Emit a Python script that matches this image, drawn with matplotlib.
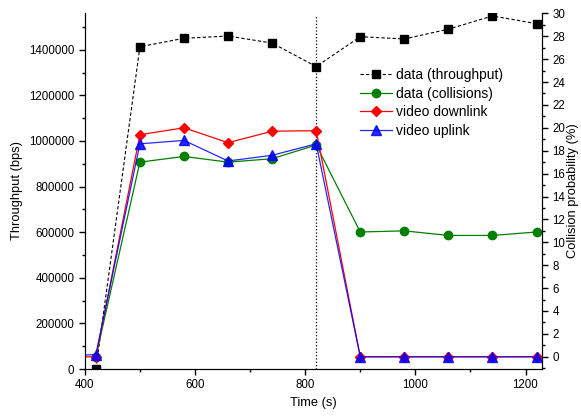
import numpy as np
import matplotlib
matplotlib.use('Agg')
import matplotlib.pyplot as plt
from matplotlib.ticker import MultipleLocator

plt.rcParams['font.family'] = ['Liberation Sans', 'DejaVu Sans']

# time points (s)
time = [420, 500, 580, 660, 740, 820, 900, 980, 1060, 1140, 1220]
# the video lines start left of the visible range
time_video = [340] + time

throughput = [0, 1413000, 1450000, 1460000, 1429000, 1326000,
              1457000, 1447000, 1490000, 1548000, 1514000]
collisions = [0, 17.0, 17.5, 17.0, 17.3, 18.5, 10.9, 11.0, 10.6, 10.6, 10.9]
video_down = [0, 0, 19.4, 20.0, 18.7, 19.7, 19.75, 0, 0, 0, 0, 0]
video_up = [0, 0.2, 18.6, 18.9, 17.1, 17.6, 18.6, 0, 0, 0, 0, 0]
handover_time = 820

fig = plt.figure(figsize=(5.81, 4.17), dpi=100)
ax = fig.add_axes([0.146, 0.115, 0.787, 0.855])
ax2 = ax.twinx()

l1, = ax.plot(time, throughput, 'k--', lw=0.8, marker='s', ms=6,
              dashes=(3, 2), label='data (throughput)')
ax.axvline(handover_time, ymax=0.99, color='k', ls=':', lw=0.9)

l2, = ax2.plot(time, collisions, color='#008000', lw=0.9, marker='o', ms=6,
               label='data (collisions)')
l3, = ax2.plot(time_video, video_down, color='red', lw=0.9, marker='D', ms=5.5,
               label='video downlink')
l4, = ax2.plot(time_video, video_up, color='blue', lw=0.9, marker='^', ms=7,
               label='video uplink', alpha=0.85)

ax.set_xlim(400, 1230)
ax.set_ylim(0, 1563000)
ax2.set_ylim(-1.07, 30.07)

ax.xaxis.set_major_locator(MultipleLocator(200))
ax.xaxis.set_minor_locator(MultipleLocator(100))
ax.yaxis.set_major_locator(MultipleLocator(200000))
ax.yaxis.set_minor_locator(MultipleLocator(100000))
ax2.yaxis.set_major_locator(MultipleLocator(2))
ax2.yaxis.set_minor_locator(MultipleLocator(1))

for a in (ax, ax2):
    a.spines['top'].set_visible(False)
    a.tick_params(which='both', direction='out', labelsize=8.3, width=1)
    a.tick_params(which='major', length=4)
    a.tick_params(which='minor', length=2.5)
ax.ticklabel_format(axis='y', style='plain')

ax.set_xlabel('Time (s)', fontsize=9.3)
ax.set_ylabel('Throughput (bps)', fontsize=9.3)
ax2.set_ylabel('Collision probability (%)', fontsize=9.3, labelpad=1)

ax2.legend(handles=[l1, l2, l3, l4], loc='upper left',
           bbox_to_anchor=(0.59, 0.86), frameon=False, fontsize=10,
           handlelength=2.3, handletextpad=0.3, labelspacing=0.33,
           borderaxespad=0)

fig.savefig('out.png', dpi=100)
